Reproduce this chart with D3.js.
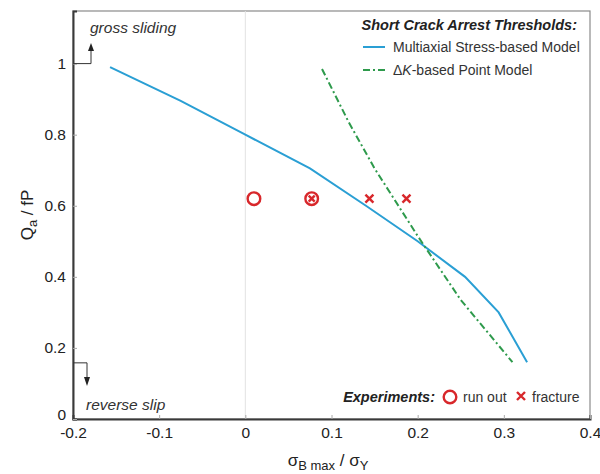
<!DOCTYPE html>
<html>
<head>
<meta charset="utf-8">
<script src="https://cdn.jsdelivr.net/npm/d3@7"></script>
<style>
  body { margin: 0; background: #fff; }
  svg { font-family: "Liberation Sans", Arial, sans-serif; }
</style>
</head>
<body>
<svg id="chart" width="600" height="474"></svg>
<script>
// Multiaxial stress-based threshold
const stressX = [-0.157, -0.075, 0, 0.075, 0.14, 0.2, 0.255, 0.294, 0.327];
const stressY = [0.99, 0.895, 0.8, 0.705, 0.6, 0.5, 0.4, 0.3, 0.16];
// Delta-K based point model
const dkX = [0.089, 0.12, 0.15, 0.2, 0.25, 0.31];
const dkY = [0.985, 0.835, 0.705, 0.515, 0.335, 0.16];
// experiments
const runOutX = [0.01];
const runOutY = [0.62];
const bothX = [0.077];
const bothY = [0.62];
const fractureX = [0.144, 0.187];
const fractureY = [0.62, 0.62];

const xTicks = [-0.2, -0.1, 0, 0.1, 0.2, 0.3, 0.4];
const yTicks = [0, 0.2, 0.4, 0.6, 0.8, 1];

const blue = "#2a9fd4", green = "#2e9a4c", red = "#d8272b";

const svg = d3.select("#chart");
const margin = { left: 73, right: 10, top: 11, bottom: 55 };
const width = 600 - margin.left - margin.right;
const height = 474 - margin.top - margin.bottom;

const x = d3.scaleLinear().domain([-0.2, 0.4]).range([0, width]);
const y = d3.scaleLinear().domain([0, 1.148]).range([height, 0]);

const g = svg.append("g").attr("transform", `translate(${margin.left},${margin.top})`);

// frame
g.append("rect").attr("width", width).attr("height", height)
  .attr("fill", "none").attr("stroke", "#8a8a8a").attr("stroke-width", 1.2);

// zero line
g.append("line").attr("x1", x(0)).attr("x2", x(0)).attr("y1", 0).attr("y2", height)
  .attr("stroke", "#e2e2e2").attr("stroke-width", 1);

const fmt = d => d === 0 || d === 1 ? String(d) : d.toFixed(1);
const xAxis = g.append("g").attr("transform", `translate(0,${height})`)
  .call(d3.axisBottom(x).tickValues(xTicks).tickSize(-4).tickPadding(8).tickFormat(fmt));
const yAxis = g.append("g")
  .call(d3.axisLeft(y).tickValues(yTicks).tickSize(-4).tickPadding(7).tickFormat(fmt));
[xAxis, yAxis].forEach(a => {
  a.select(".domain").attr("stroke", "#3a3a3a").attr("stroke-width", 2);
  a.selectAll(".tick line").attr("stroke", "#aaa");
  a.selectAll(".tick text").attr("fill", "#222").attr("font-size", 15.5)
    .attr("font-family", "Liberation Sans, Arial, sans-serif");
});
yAxis.selectAll(".tick").filter(d => d === 0).select("text").attr("dy", "0.05em");

// axis titles
const xt = svg.append("text").attr("x", 328).attr("y", 466).attr("text-anchor", "middle")
  .attr("font-size", 17).attr("fill", "#222");
xt.append("tspan").text("σ");
xt.append("tspan").attr("font-size", 13).attr("dy", 4).text("B max");
xt.append("tspan").attr("dy", -4).text(" / σ");
xt.append("tspan").attr("font-size", 13).attr("dy", 4).text("Y");

const yt = svg.append("text").attr("transform", "translate(33,215) rotate(-90)")
  .attr("text-anchor", "middle").attr("font-size", 17).attr("fill", "#222");
yt.append("tspan").text("Q");
yt.append("tspan").attr("font-size", 13).attr("dy", 4).text("a");
yt.append("tspan").attr("dy", -4).text(" / fP");

// lines
const line = d3.line().x(d => x(d[0])).y(d => y(d[1]));
g.append("path").datum(stressX.map((v, i) => [v, stressY[i]]))
  .attr("d", line).attr("fill", "none").attr("stroke", blue).attr("stroke-width", 2);
g.append("path").datum(dkX.map((v, i) => [v, dkY[i]]))
  .attr("d", line).attr("fill", "none").attr("stroke", green).attr("stroke-width", 2)
  .attr("stroke-dasharray", "7,3,2,3");

// markers
function circ(sel, cx, cy) {
  sel.append("circle").attr("cx", cx).attr("cy", cy).attr("r", 6.3)
    .attr("fill", "none").attr("stroke", red).attr("stroke-width", 2.4);
}
function cross(sel, cx, cy, s) {
  sel.append("path").attr("d", `M${cx - s},${cy - s}L${cx + s},${cy + s}M${cx - s},${cy + s}L${cx + s},${cy - s}`)
    .attr("stroke", red).attr("stroke-width", 2.4).attr("fill", "none");
}
runOutX.forEach((v, i) => circ(g, x(v), y(runOutY[i])));
bothX.forEach((v, i) => { circ(g, x(v), y(bothY[i])); cross(g, x(v), y(bothY[i]), 3); });
fractureX.forEach((v, i) => cross(g, x(v), y(fractureY[i]), 4));

// annotations
const ann = svg.append("g").attr("stroke", "#333").attr("fill", "none").attr("stroke-width", 1);
const y1 = margin.top + y(1), yRs = margin.top + y(0.158);
ann.append("path").attr("d", `M${margin.left},${y1}H91V51`);
ann.append("path").attr("d", `M${margin.left},${yRs}H87V377`);
svg.append("path").attr("d", "M88,51L91,43L94,51Z").attr("fill", "#222");
svg.append("path").attr("d", "M84,377L87,386L90,377Z").attr("fill", "#222");
svg.append("text").attr("x", 90).attr("y", 33).attr("font-size", 15.5).attr("font-style", "italic")
  .attr("fill", "#333").text("gross sliding");
svg.append("text").attr("x", 86).attr("y", 410).attr("font-size", 15.5).attr("font-style", "italic")
  .attr("fill", "#333").text("reverse slip");

// legend top-right
svg.append("text").attr("x", 577).attr("y", 30).attr("text-anchor", "end")
  .attr("font-size", 14.5).attr("font-weight", "bold").attr("font-style", "italic")
  .attr("fill", "#222").text("Short Crack Arrest Thresholds:");
svg.append("line").attr("x1", 363).attr("x2", 385).attr("y1", 47).attr("y2", 47)
  .attr("stroke", blue).attr("stroke-width", 2);
svg.append("text").attr("x", 393).attr("y", 52).attr("font-size", 14).attr("fill", "#333")
  .text("Multiaxial Stress-based Model");
svg.append("line").attr("x1", 363).attr("x2", 386).attr("y1", 70).attr("y2", 70)
  .attr("stroke", green).attr("stroke-width", 2).attr("stroke-dasharray", "7,3,2,3");
const dk = svg.append("text").attr("x", 393).attr("y", 75).attr("font-size", 14).attr("fill", "#333");
dk.append("tspan").text("Δ");
dk.append("tspan").attr("font-style", "italic").text("K");
dk.append("tspan").text("-based Point Model");

// legend bottom-right
svg.append("text").attr("x", 435).attr("y", 402).attr("text-anchor", "end")
  .attr("font-size", 14.5).attr("font-weight", "bold").attr("font-style", "italic")
  .attr("fill", "#222").text("Experiments:");
circ(svg, 450, 397);
svg.append("text").attr("x", 463).attr("y", 402).attr("font-size", 14).attr("fill", "#333").text("run out");
cross(svg, 521, 396, 4);
svg.append("text").attr("x", 532).attr("y", 402).attr("font-size", 14).attr("fill", "#333").text("fracture");
</script>
</body>
</html>
